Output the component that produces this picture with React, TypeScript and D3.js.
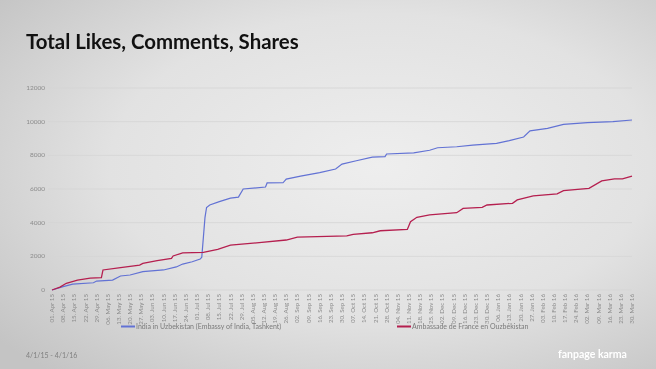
import React from 'react'
import * as d3 from 'd3'

// cumulative totals (date, value)
const indiaSeries: [string, number][] = [
  ['2015-04-01', 0], ['2015-04-08', 200], ['2015-04-14', 350], ['2015-04-27', 430],
  ['2015-04-29', 530], ['2015-05-09', 590], ['2015-05-14', 830], ['2015-05-20', 890],
  ['2015-05-28', 1090], ['2015-06-10', 1190], ['2015-06-18', 1370], ['2015-06-22', 1540],
  ['2015-06-28', 1680], ['2015-07-03', 1840], ['2015-07-04', 1950], ['2015-07-06', 4300],
  ['2015-07-07', 4900], ['2015-07-09', 5050], ['2015-07-15', 5250], ['2015-07-22', 5460],
  ['2015-07-27', 5520], ['2015-07-30', 6000], ['2015-08-13', 6120], ['2015-08-14', 6360],
  ['2015-08-24', 6370], ['2015-08-26', 6590], ['2015-09-04', 6770], ['2015-09-16', 6970],
  ['2015-09-26', 7190], ['2015-09-30', 7480], ['2015-10-09', 7680], ['2015-10-19', 7890],
  ['2015-10-27', 7920], ['2015-10-28', 8080], ['2015-11-14', 8150], ['2015-11-24', 8300],
  ['2015-11-29', 8450], ['2015-12-11', 8510], ['2015-12-21', 8610], ['2016-01-05', 8710],
  ['2016-01-13', 8870], ['2016-01-22', 9090], ['2016-01-26', 9450], ['2016-02-06', 9600],
  ['2016-02-16', 9840], ['2016-03-02', 9940], ['2016-03-18', 10000], ['2016-03-30', 10100]
]

const franceSeries: [string, number][] = [
  ['2015-04-01', 0], ['2015-04-06', 170], ['2015-04-10', 400], ['2015-04-17', 590],
  ['2015-04-25', 700], ['2015-05-02', 740], ['2015-05-03', 1190], ['2015-05-14', 1330],
  ['2015-05-26', 1480], ['2015-05-28', 1580], ['2015-06-06', 1740], ['2015-06-15', 1880],
  ['2015-06-16', 2020], ['2015-06-22', 2210], ['2015-07-05', 2240], ['2015-07-14', 2420],
  ['2015-07-22', 2670], ['2015-08-09', 2810], ['2015-08-26', 2970], ['2015-09-02', 3140],
  ['2015-10-03', 3210], ['2015-10-07', 3300], ['2015-10-19', 3400], ['2015-10-24', 3520],
  ['2015-11-10', 3600], ['2015-11-12', 4060], ['2015-11-16', 4320], ['2015-11-24', 4460],
  ['2015-12-11', 4590], ['2015-12-15', 4850], ['2015-12-27', 4910], ['2015-12-30', 5050],
  ['2016-01-15', 5150], ['2016-01-18', 5350], ['2016-01-28', 5590], ['2016-02-12', 5710],
  ['2016-02-16', 5900], ['2016-03-03', 6040], ['2016-03-11', 6480], ['2016-03-19', 6600],
  ['2016-03-24', 6600], ['2016-03-30', 6770]
]

const seriesNames = ['India in Uzbekistan (Embassy of India, Tashkent)', 'Ambassade de France en Ouzbékistan']
const seriesColors = ['#6272d4', '#b51f4f']
const yTicks = [0, 2000, 4000, 6000, 8000, 10000, 12000]
const firstTick = '2015-04-01'
const tickCount = 53

const W = 656
const H = 369
const parse = d3.utcParse('%Y-%m-%d')
const fmt = d3.utcFormat('%d. %b %y')

const App = () => {
  const start = parse(firstTick) as Date
  const weekTicks = d3.range(tickCount).map((i) => d3.utcDay.offset(start, i * 7))

  const x = d3.scaleUtc().domain([start, weekTicks[weekTicks.length - 1]]).range([52, 632])
  const y = d3.scaleLinear().domain([0, 12000]).range([290, 88])

  const line = d3
    .line<[string, number]>()
    .x((d) => x(parse(d[0]) as Date))
    .y((d) => y(d[1]))

  const font = 'Lato, "Open Sans", sans-serif'

  return (
    <div style={{ position: 'fixed', left: 0, top: 0 }}>
      <svg width={W} height={H} style={{ display: 'block' }}>
        <defs>
          <radialGradient id="bg" cx="0.58" cy="0.45" r="0.75">
            <stop offset="0" stopColor="#eeeeee" />
            <stop offset="0.55" stopColor="#e2e2e2" />
            <stop offset="1" stopColor="#c4c4c4" />
          </radialGradient>
        </defs>
        <rect width={W} height={H} fill="url(#bg)" />

        <text x={26} y={49} fontFamily={font} fontWeight={700} fontSize={20.4} fill="#111">
          Total Likes, Comments, Shares
        </text>

        {/* grid + y labels */}
        {yTicks.map((t) => (
          <g key={t}>
            <line x1={48} x2={632} y1={y(t)} y2={y(t)} stroke="#d4d4d4" strokeWidth={0.8} />
            <text x={45} y={y(t)} dy="0.33em" textAnchor="end" fontFamily={font} fontSize={6.5} fill="#8c8c8c">
              {t}
            </text>
          </g>
        ))}

        {/* x labels */}
        {weekTicks.map((d, i) => (
          <text
            key={i}
            transform={`translate(${x(d)},294) rotate(-90)`}
            dy="0.33em"
            textAnchor="end"
            fontFamily={font}
            fontSize={6.2}
            fill="#8c8c8c"
          >
            {fmt(d)}
          </text>
        ))}

        <path d={line(indiaSeries) ?? ''} fill="none" stroke={seriesColors[0]} strokeWidth={1.2} />
        <path d={line(franceSeries) ?? ''} fill="none" stroke={seriesColors[1]} strokeWidth={1.3} />

        {/* legend */}
        {[121, 397].map((lx, i) => (
          <g key={i}>
            <line x1={lx} x2={lx + 14} y1={326.5} y2={326.5} stroke={seriesColors[i]} strokeWidth={2} />
            <text x={lx + 15} y={326.5} dy="0.33em" fontFamily={font} fontSize={7} fill="#7a7a7a">
              {seriesNames[i]}
            </text>
          </g>
        ))}

        <text x={26} y={358} fontFamily={font} fontSize={7} fill="#808080">
          4/1/15 - 4/1/16
        </text>
        <text x={558} y={358} fontFamily={font} fontWeight={700} fontSize={10.5} fill="#ffffff">
          fanpage karma
        </text>
      </svg>
    </div>
  )
}

export default App
